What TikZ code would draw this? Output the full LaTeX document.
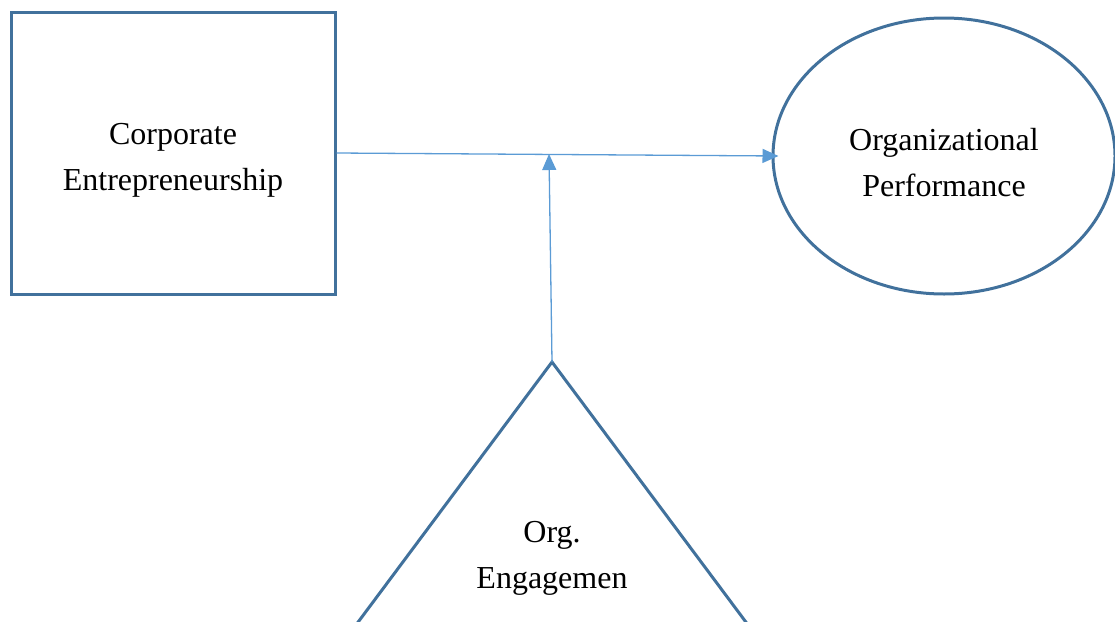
\documentclass[tikz,border=0pt]{standalone}
\usepackage{fontspec}
\setmainfont{Liberation Serif}
\usetikzlibrary{shapes.geometric,arrows.meta}
\definecolor{shapeblue}{HTML}{41719C}
\definecolor{lineblue}{HTML}{5B9BD5}
\tikzset{
  box/.style={draw=shapeblue, line width=3pt, minimum width=324pt, minimum height=282pt, inner sep=0pt},
  oval/.style={ellipse, draw=shapeblue, line width=3pt, minimum width=342pt, minimum height=276pt, inner sep=0pt},
  lbl/.style={font=\fontsize{32}{46}\selectfont, align=center, inner sep=0pt},
  conn/.style={draw=lineblue, line width=1.3pt, -{Triangle[length=16pt,width=14pt]}}
}
\begin{document}
\begin{tikzpicture}[x=1pt,y=-1pt]
\useasboundingbox (0,0) rectangle (1115,621);
\node[box] (ce) at (173,153) {};
\node[lbl] (cet) at (173,160) {Corporate\\Entrepreneurship};
\node[oval] (op) at (944,156) {};
\node[lbl] (opt) at (944,163) {Organizational\\Performance};
\begin{scope}
\clip (0,0) rectangle (1115,621);
\coordinate (apex) at (552,362);
\draw[shapeblue, line width=3pt, line join=miter] (300,700) -- (apex) -- (804,700);
\end{scope}
\node[lbl] (oe) at (552,558) {Org.\\Engagemen};
\coordinate (mod) at (549,154);
\coordinate (optip) at ([xshift=7pt]op.west);
\draw[conn] (ce.east) -- (optip);
\draw[conn] (apex) -- (mod);
\end{tikzpicture}
\end{document}
